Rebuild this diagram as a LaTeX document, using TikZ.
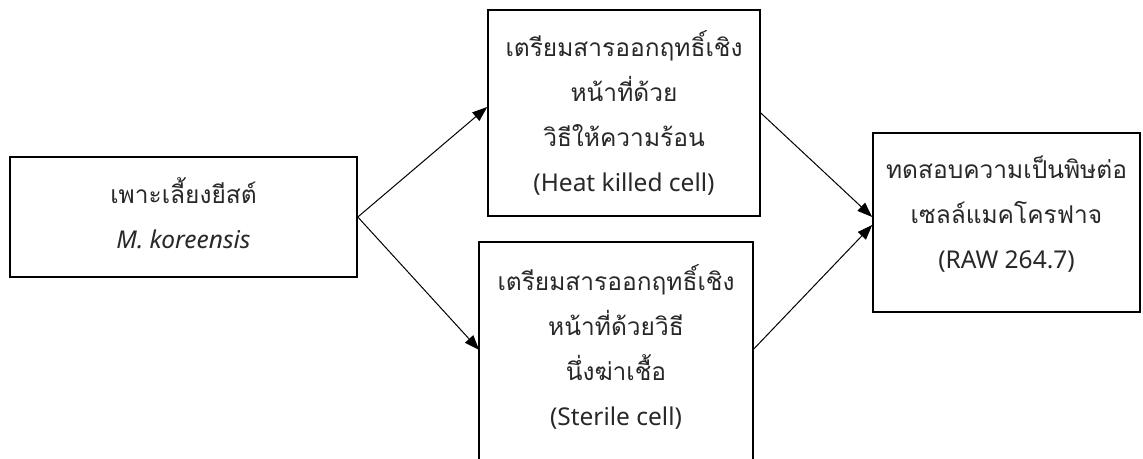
\documentclass[tikz,border=0pt]{standalone}
\usepackage{fontspec}
\setmainfont{Noto Sans}
\newfontfamily\thaifont[Script=Thai]{Loma}
\usetikzlibrary{
  arrows.meta,
  positioning,
  calc,
}
\definecolor{boxline}{RGB}{0,0,0}
\definecolor{arrowcol}{RGB}{0,0,0}
\definecolor{textcol}{RGB}{40,40,40}
\tikzset{
  stepbox/.style={
    rectangle, draw=boxline, line width=1.6pt, fill=white,
    align=center, inner sep=0pt, text=textcol,
    font=\fontsize{24.5}{45}\selectfont
  },
  steptext/.style={
    align=center, inner sep=0pt, text=textcol,
    font=\fontsize{24.5}{45}\selectfont
  },
  flowarrow/.style={
    -{Triangle[length=15pt,width=11pt]}, line width=1pt, arrowcol
  },
}
\newcommand{\thtxt}[1]{{\thaifont\fontsize{24.5}{45}\selectfont #1}}

\begin{document}
\begin{tikzpicture}[x=1pt, y=-1pt]
  \useasboundingbox (0,0) rectangle (1143,458);

  % ── Culture ──
  \node[stepbox, minimum width=347pt, minimum height=120pt] (culture)
    at (183.5,217) {};
  \node[steptext] (culturetext) at ([yshift=4pt]culture.center)
    {\thtxt{เพาะเลี้ยงยีสต์}\\\textit{M. koreensis}};

  % ── Heat killed ──
  \node[stepbox, minimum width=272pt, minimum height=206pt] (heat)
    at (624,113) {\thtxt{เตรียมสารออกฤทธิ์เชิง}\\\thtxt{หน้าที่ด้วย}\\\thtxt{วิธีให้ความร้อน}\\(Heat killed cell)};

  % ── Sterile (open below the page) ──
  \node[stepbox, draw=none, fill=none, minimum width=272pt, minimum height=214pt] (sterile)
    at (616,350) {};
  \node[steptext] (steriletext) at ([yshift=3pt]sterile.center)
    {\thtxt{เตรียมสารออกฤทธิ์เชิง}\\\thtxt{หน้าที่ด้วยวิธี}\\\thtxt{นึ่งฆ่าเชื้อ}\\(Sterile cell)};
  \draw[line width=1.6pt, boxline]
    ([yshift=-4pt]sterile.south west) -- (sterile.north west)
    -- (sterile.north east) -- ([yshift=-4pt]sterile.south east);

  % ── Toxicity test ──
  \node[stepbox, minimum width=267pt, minimum height=179pt] (raw)
    at (1006.5,222.5) {};
  \node[steptext] (rawtext) at ([yshift=8pt]raw.center)
    {\thtxt{ทดสอบความเป็นพิษต่อ}\\\thtxt{เซลล์แมคโครฟาจ}\\(RAW 264.7)};

  % ── Arrows ──
  \draw[flowarrow] (culture.east) -- ([yshift=6pt]heat.west);
  \draw[flowarrow] (culture.east) -- (sterile.west);
  \draw[flowarrow] (heat.east)    -- ([yshift=5.5pt]raw.west);
  \draw[flowarrow] (sterile.east) -- ([yshift=-2.5pt]raw.west);

\end{tikzpicture}
\end{document}
